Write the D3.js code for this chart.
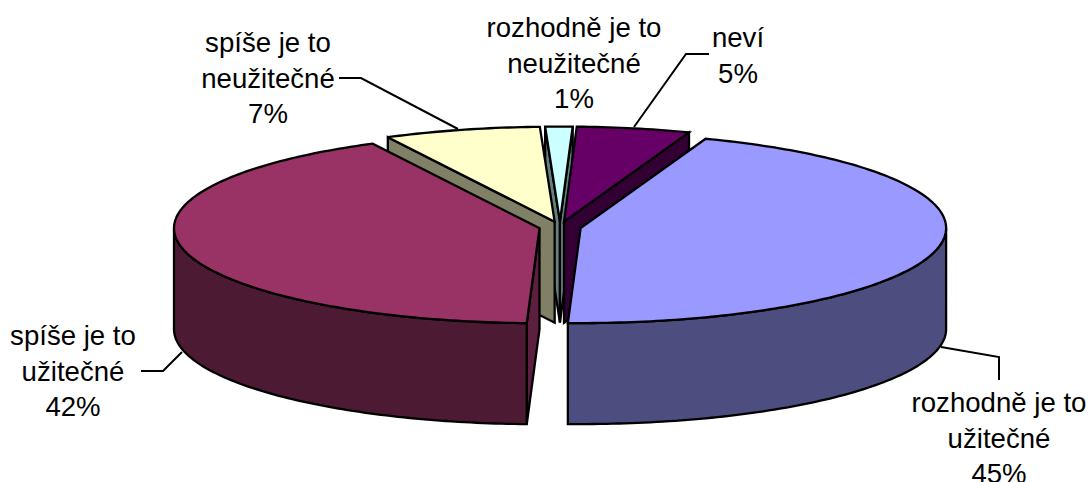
<!DOCTYPE html>
<html>
<head>
<meta charset="utf-8">
<script src="https://cdn.jsdelivr.net/npm/d3@7"></script>
<style>
  html, body { margin: 0; background: #fff; overflow: hidden; }
  text { font-family: "Liberation Sans", Arial, sans-serif; font-size: 27.6px; fill: #000; text-anchor: middle; }
</style>
</head>
<body>
<svg id="chart"></svg>
<script>
// values, in pie order, clockwise from the first slice angle
const categories = [
  ["rozhodně je to", "užitečné"],
  ["spíše je to", "užitečné"],
  ["spíše je to", "neužitečné"],
  ["rozhodně je to", "neužitečné"],
  ["neví"]
];
const shares = [45, 41.9, 6.9, 1.2, 5];

const topColors = ["#9999ff", "#993366", "#ffffcc", "#ccffff", "#660066"];
const sideColors = ["#4d4d80", "#4d1a33", "#808066", "#668080", "#330033"];
const cutColors = ["#4d4d80", "#5c1f3d", "#808066", "#668080", "#330033"];

const width = 1091;
const height = 482;
const cx = 560, cy = 227;      // pie centre before exploding
const rx = 365.5, ry = 95;     // top face ellipse
const depth = 101;             // height of the cylinder
const explode = 21;
const firstAngle = 20 * Math.PI / 180;

// label block centre + first baseline, and leader line for each slice
const labelPos = [
  { x: 999, y: 412, leader: [[941, 347], [999, 357], [999, 380]] },
  { x: 73, y: 345, leader: [[182, 352], [163, 371], [141, 371]] },
  { x: 268, y: 52, leader: [[458, 129], [361, 78], [339, 78]] },
  { x: 574, y: 37, leader: null },
  { x: 738, y: 47, leader: [[634, 127], [686, 54], [709, 54]] }
];
const lineGap = 35.5;

const svg = d3.select("#chart")
  .attr("width", width)
  .attr("height", height);

const pie = d3.pie()
  .sort(null)
  .startAngle(firstAngle)
  .endAngle(firstAngle + 2 * Math.PI);

const slices = pie(shares).map((d, i) => {
  const mid = (d.startAngle + d.endAngle) / 2;
  return {
    ...d,
    i,
    ox: cx + explode * Math.sin(mid),
    oy: cy - explode * (ry / rx) * Math.cos(mid)
  };
});

const line = d3.line();

// point on rim (r=1) or at the apex (r=0), z pushes it down the side
function pt(s, a, r, z) {
  return [s.ox + r * rx * Math.sin(a), s.oy - r * ry * Math.cos(a) + z];
}

function rim(s, a0, a1, z) {
  const n = Math.max(2, Math.ceil(Math.abs(a1 - a0) * 180 / Math.PI));
  return d3.range(n + 1).map(k => pt(s, a0 + (a1 - a0) * k / n, 1, z));
}

function drawCut(g, s, a) {
  g.append("path")
    .attr("d", line([pt(s, a, 0, 0), pt(s, a, 1, 0), pt(s, a, 1, depth), pt(s, a, 0, depth)]) + "Z")
    .attr("fill", cutColors[s.i]);
}

// back slices first, the two big ones go on top of them
const drawOrder = [3, 2, 4, 1, 0];

const pieG = svg.append("g")
  .attr("stroke", "#000")
  .attr("stroke-width", 2.3)
  .attr("stroke-linejoin", "miter")
  .attr("stroke-miterlimit", 3);

drawOrder.forEach(i => {
  const s = slices[i];
  const g = pieG.append("g");

  // only cuts that face the viewer
  if (Math.sin(s.startAngle) < 0) drawCut(g, s, s.startAngle);
  if (Math.sin(s.endAngle) > 0) drawCut(g, s, s.endAngle);

  // outer wall, front half of the ellipse only
  const frontStart = Math.PI / 2, frontEnd = 3 * Math.PI / 2;
  const a0 = Math.max(s.startAngle, frontStart);
  const a1 = Math.min(s.endAngle, frontEnd);
  if (a1 > a0) {
    g.append("path")
      .attr("d", line(rim(s, a0, a1, 0).concat(rim(s, a1, a0, depth))) + "Z")
      .attr("fill", sideColors[i]);
  }

  g.append("path")
    .attr("d", line([pt(s, s.startAngle, 0, 0)].concat(rim(s, s.startAngle, s.endAngle, 0))) + "Z")
    .attr("fill", topColors[i]);
});

// leaders
svg.append("g")
  .selectAll("path")
  .data(labelPos.filter(d => d.leader))
  .join("path")
  .attr("d", d => line(d.leader))
  .attr("fill", "none")
  .attr("stroke", "#000")
  .attr("stroke-width", 2);

// labels
const labels = svg.append("g")
  .selectAll("text")
  .data(slices)
  .join("text")
  .attr("x", d => labelPos[d.i].x)
  .attr("y", d => labelPos[d.i].y);

labels.selectAll("tspan")
  .data(d => categories[d.i].concat(d3.format(".0f")(shares[d.i]) + "%").map(t => ({ t, i: d.i })))
  .join("tspan")
  .attr("x", d => labelPos[d.i].x)
  .attr("dy", (d, k) => k === 0 ? 0 : lineGap)
  .text(d => d.t);
</script>
</body>
</html>
